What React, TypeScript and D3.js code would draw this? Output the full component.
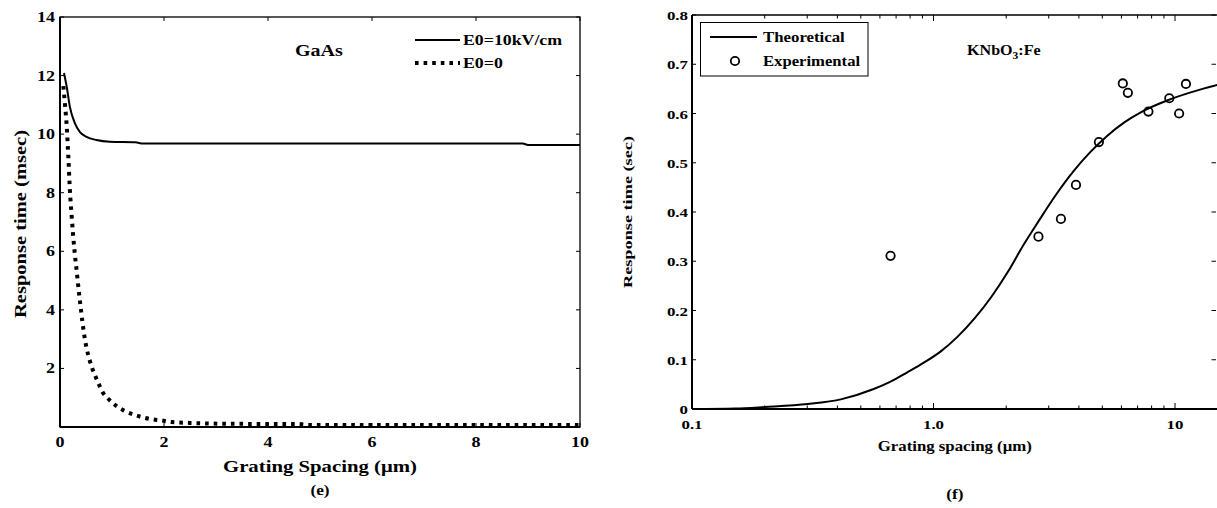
import React from 'react';
import * as d3 from 'd3';

const FONT = "'Liberation Serif', 'DejaVu Serif', serif";

// ---- Left chart (e) data: GaAs ----
const leftXTicks = [0, 2, 4, 6, 8, 10];
const leftYTicks = [2, 4, 6, 8, 10, 12, 14];
const fieldX = [0.077, 0.13, 0.19, 0.29, 0.38, 0.51, 0.7, 0.96, 1.45, 1.6, 8.9, 9.0, 10];
const fieldY = [12.09, 11.61, 10.93, 10.36, 10.08, 9.91, 9.8, 9.74, 9.72, 9.68, 9.68, 9.63, 9.63];
const zeroX = [0.064, 0.1, 0.13, 0.16, 0.19, 0.22, 0.25, 0.28, 0.31, 0.34, 0.37, 0.4, 0.43, 0.47, 0.51, 0.56, 0.61, 0.67, 0.74, 0.82, 0.94, 1.08, 1.23, 1.41, 1.59, 1.78, 1.96, 2.15, 2.5, 2.87, 3.25, 4.6, 4.8, 10];
const zeroY = [11.64, 10.93, 10.25, 9.23, 8.1, 7.3, 6.6, 6.0, 5.5, 5.0, 4.5, 4.05, 3.6, 3.1, 2.7, 2.35, 2.05, 1.78, 1.49, 1.19, 0.94, 0.72, 0.56, 0.43, 0.33, 0.26, 0.22, 0.17, 0.14, 0.12, 0.11, 0.1, 0.07, 0.07];

// ---- Right chart (f) data: KNbO3:Fe ----
const rightXMajor = [0.1, 1, 10];
const rightXLabels = ['0.1', '1.0', '10'];
const rightXMinor = [0.2, 0.3, 0.4, 0.5, 0.6, 0.7, 0.8, 0.9, 2, 3, 4, 5, 6, 7, 8, 9];
const rightYTicks = [0, 0.1, 0.2, 0.3, 0.4, 0.5, 0.6, 0.7, 0.8];
const theoX = [0.1, 0.151, 0.2, 0.302, 0.417, 0.562, 0.661, 0.776, 0.912, 1.072, 1.259, 1.479, 1.738, 2.042, 2.344, 2.754, 3.236, 3.802, 4.467, 5.248, 6.166, 7.244, 9.333, 12.59, 15];
const theoY = [0, 0.001, 0.004, 0.01, 0.02, 0.04, 0.055, 0.074, 0.094, 0.117, 0.147, 0.184, 0.228, 0.28, 0.331, 0.385, 0.437, 0.483, 0.522, 0.555, 0.582, 0.603, 0.627, 0.648, 0.658];
const expX = [0.664, 2.72, 3.37, 3.89, 4.84, 6.08, 6.38, 7.76, 9.47, 10.4, 11.1];
const expY = [0.311, 0.35, 0.386, 0.455, 0.542, 0.661, 0.642, 0.604, 0.631, 0.6, 0.66];

type TProps = { x: number; y: number; size: number; sx?: number; anchor?: 'start' | 'middle' | 'end'; children: React.ReactNode };
// bold serif text, optionally widened horizontally
function T({ x, y, size, sx = 1, anchor = 'start', children }: TProps) {
  return (
    <text transform={`translate(${x},${y}) scale(${sx},1)`} textAnchor={anchor} fontSize={size}
      fontFamily={FONT} fontWeight="bold" fill="#000">{children}</text>
  );
}

export default function App() {
  const xL = d3.scaleLinear().domain([0, 10]).range([60, 580]);
  const yL = d3.scaleLinear().domain([0, 14]).range([427, 17]);
  const xR = d3.scaleLog().domain([0.1, 15]).range([692, 692 + Math.log10(150) * 241.5]);
  const yR = d3.scaleLinear().domain([0, 0.8]).range([409, 15]);

  const lineL = d3.line<[number, number]>().x(d => xL(d[0])).y(d => yL(d[1])).curve(d3.curveMonotoneX);
  const lineR = d3.line<[number, number]>().x(d => xR(d[0])).y(d => yR(d[1])).curve(d3.curveMonotoneX);

  const fieldPts = fieldX.map((x, i) => [x, fieldY[i]] as [number, number]);
  const zeroPts = zeroX.map((x, i) => [x, zeroY[i]] as [number, number]);
  const theoPts = theoX.map((x, i) => [x, theoY[i]] as [number, number]);

  const [l0, l1] = xL.range();
  const [b0, t0] = yL.range();
  const rL = xR.range()[0];
  const rR = xR.range()[1];
  const [rb, rt] = yR.range();

  return (
    <svg width={1217} height={508} style={{ position: 'absolute', left: 0, top: 0, background: '#fff' }}>
      <rect x={0} y={0} width={1217} height={508} fill="#fff" />
      {/* ================= LEFT CHART ================= */}
      <g>
        <defs>
          <clipPath id="clipL">
            <rect x={l0} y={t0} width={l1 - l0} height={b0 - t0} />
          </clipPath>
        </defs>
        <g clipPath="url(#clipL)">
          <path d={lineL(zeroPts) || ''} fill="none" stroke="#000" strokeWidth={4} strokeDasharray="3.6 5" />
          <path d={lineL(fieldPts) || ''} fill="none" stroke="#000" strokeWidth={2} />
        </g>
        <rect x={l0} y={t0} width={l1 - l0} height={b0 - t0} fill="none" stroke="#000" strokeWidth={1.3} />
        <line x1={l0} x2={l1} y1={b0} y2={b0} stroke="#000" strokeWidth={2} />
        <line x1={l0} x2={l0} y1={t0} y2={b0} stroke="#000" strokeWidth={2} />
        {leftXTicks.map(t => (
          <g key={'lx' + t}>
            <line x1={xL(t)} x2={xL(t)} y1={b0} y2={b0 - 4} stroke="#000" strokeWidth={1} />
            <line x1={xL(t)} x2={xL(t)} y1={t0} y2={t0 + 4} stroke="#000" strokeWidth={1} />
            <T x={xL(t)} y={b0 + 20} size={15} sx={1.2} anchor="middle">{t}</T>
          </g>
        ))}
        {leftYTicks.map(t => (
          <g key={'ly' + t}>
            <line x1={l0} x2={l0 + 4} y1={yL(t)} y2={yL(t)} stroke="#000" strokeWidth={1} />
            <line x1={l1} x2={l1 - 4} y1={yL(t)} y2={yL(t)} stroke="#000" strokeWidth={1} />
            <T x={l0 - 5} y={yL(t) + 5} size={15} sx={1.2} anchor="end">{t}</T>
          </g>
        ))}
        <text x={(l0 + l1) / 2} y={472} textAnchor="middle" fontSize={17} fontFamily={FONT} fontWeight="bold"
          textLength={194} lengthAdjust="spacingAndGlyphs">Grating Spacing (μm)</text>
        <T x={(l0 + l1) / 2} y={495} size={15} sx={1.15} anchor="middle">(e)</T>
        <text transform={`translate(26,224) rotate(-90)`} textAnchor="middle" fontSize={17} fontFamily={FONT}
          fontWeight="bold" textLength={188} lengthAdjust="spacingAndGlyphs">Response time (msec)</text>
        <T x={295} y={56} size={17} sx={1.18}>GaAs</T>
        <line x1={415} x2={460} y1={40} y2={40} stroke="#000" strokeWidth={2} />
        <T x={463} y={45} size={14} sx={1.27}>E0=10kV/cm</T>
        <line x1={415} x2={460} y1={63} y2={63} stroke="#000" strokeWidth={4} strokeDasharray="3.6 5" />
        <T x={463} y={68} size={14} sx={1.27}>E0=0</T>
      </g>

      {/* ================= RIGHT CHART ================= */}
      <g>
        <defs>
          <clipPath id="clipR">
            <rect x={rL} y={rt} width={rR - rL} height={rb - rt} />
          </clipPath>
        </defs>
        <g clipPath="url(#clipR)">
          <path d={lineR(theoPts) || ''} fill="none" stroke="#000" strokeWidth={2} />
        </g>
        {expX.map((x, i) => (
          <circle key={'e' + i} cx={xR(x)} cy={yR(expY[i])} r={4.2} fill="none" stroke="#000" strokeWidth={1.8} />
        ))}
        <line x1={rL} x2={rR} y1={rt} y2={rt} stroke="#000" strokeWidth={1.3} />
        <line x1={rL} x2={rR} y1={rb} y2={rb} stroke="#000" strokeWidth={2.2} />
        <line x1={rL} x2={rL} y1={rt} y2={rb} stroke="#000" strokeWidth={2} />
        {rightXMajor.map((t, i) => (
          <g key={'rx' + t}>
            <line x1={xR(t)} x2={xR(t)} y1={rb} y2={rb - 6} stroke="#000" strokeWidth={1} />
            <line x1={xR(t)} x2={xR(t)} y1={rt} y2={rt + 6} stroke="#000" strokeWidth={1} />
            <T x={xR(t)} y={rb + 20} size={13.5} sx={1.25} anchor="middle">{rightXLabels[i]}</T>
          </g>
        ))}
        {rightXMinor.map(t => (
          <g key={'rm' + t}>
            <line x1={xR(t)} x2={xR(t)} y1={rb} y2={rb - 3.5} stroke="#000" strokeWidth={1} />
            <line x1={xR(t)} x2={xR(t)} y1={rt} y2={rt + 3.5} stroke="#000" strokeWidth={1} />
          </g>
        ))}
        {rightYTicks.map(t => (
          <g key={'ry' + t}>
            <line x1={rL} x2={rL + 4} y1={yR(t)} y2={yR(t)} stroke="#000" strokeWidth={1} />
            <line x1={rR - 1.5} x2={rR - 6} y1={yR(t)} y2={yR(t)} stroke="#000" strokeWidth={1} />
            <T x={rL - 4} y={yR(t) + 5} size={13.5} sx={1.25} anchor="end">{t === 0 ? '0' : t.toFixed(1)}</T>
          </g>
        ))}
        <text x={(rL + rR) / 2} y={451} textAnchor="middle" fontSize={14} fontFamily={FONT} fontWeight="bold"
          textLength={154} lengthAdjust="spacingAndGlyphs">Grating spacing (μm)</text>
        <T x={(rL + rR) / 2} y={499} size={15} sx={1.15} anchor="middle">(f)</T>
        <text transform={`translate(632,212) rotate(-90)`} textAnchor="middle" fontSize={13.5} fontFamily={FONT}
          fontWeight="bold" textLength={152} lengthAdjust="spacingAndGlyphs">Response time (sec)</text>
        <text transform="translate(967,55) scale(1.15,1)" fontSize={14} fontFamily={FONT} fontWeight="bold">
          KNbO<tspan dy={4} fontSize={10}>3</tspan><tspan dy={-4}>:Fe</tspan>
        </text>
        <rect x={700.5} y={22.5} width={167.5} height={53.5} fill="#fff" stroke="#000" strokeWidth={1} />
        <line x1={710} x2={757} y1={37} y2={37} stroke="#000" strokeWidth={2} />
        <T x={763} y={42} size={14} sx={1.2}>Theoretical</T>
        <circle cx={735} cy={61} r={4.2} fill="none" stroke="#000" strokeWidth={1.8} />
        <T x={763} y={66} size={14} sx={1.19}>Experimental</T>
      </g>
    </svg>
  );
}
